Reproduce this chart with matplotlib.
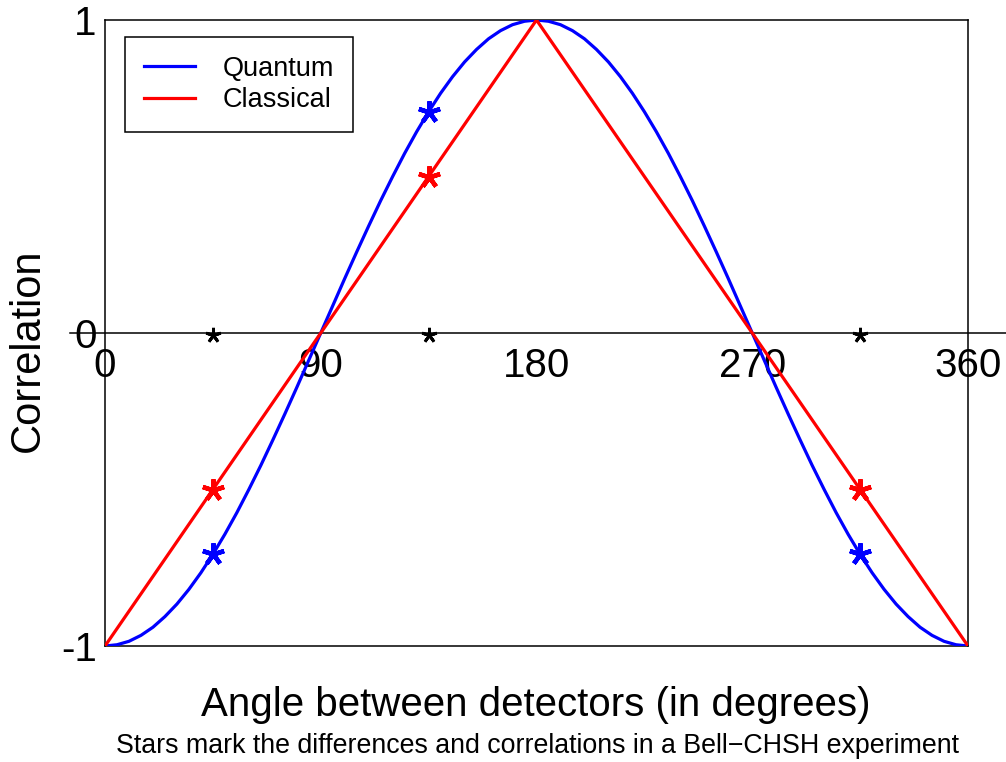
import matplotlib
matplotlib.use("Agg")
import matplotlib.pyplot as plt

plt.rcParams['font.family'] = ['Liberation Sans', 'DejaVu Sans']

# Quantum correlation read every 5 degrees
angles = [0, 5, 10, 15, 20, 25, 30, 35, 40, 45, 50, 55, 60, 65, 70, 75, 80, 85, 90,
          95, 100, 105, 110, 115, 120, 125, 130, 135, 140, 145, 150, 155, 160, 165, 170, 175, 180,
          185, 190, 195, 200, 205, 210, 215, 220, 225, 230, 235, 240, 245, 250, 255, 260, 265, 270,
          275, 280, 285, 290, 295, 300, 305, 310, 315, 320, 325, 330, 335, 340, 345, 350, 355, 360]
quantum = [-1.000, -0.996, -0.985, -0.966, -0.940, -0.906, -0.866, -0.819, -0.766, -0.707,
           -0.643, -0.574, -0.500, -0.423, -0.342, -0.259, -0.174, -0.087, 0.000,
           0.087, 0.174, 0.259, 0.342, 0.423, 0.500, 0.574, 0.643, 0.707, 0.766,
           0.819, 0.866, 0.906, 0.940, 0.966, 0.985, 0.996, 1.000,
           0.996, 0.985, 0.966, 0.940, 0.906, 0.866, 0.819, 0.766, 0.707, 0.643,
           0.574, 0.500, 0.423, 0.342, 0.259, 0.174, 0.087, 0.000,
           -0.087, -0.174, -0.259, -0.342, -0.423, -0.500, -0.574, -0.643, -0.707, -0.766,
           -0.819, -0.866, -0.906, -0.940, -0.966, -0.985, -0.996, -1.000]

classical_x = [0, 180, 360]
classical_y = [-1, 1, -1]

star_x = [45, 135, 315]
star_quantum = [-0.707, 0.707, -0.707]
star_classical = [-0.5, 0.5, -0.5]
star_diff = [0, 0, 0]

xticks = [0, 90, 180, 270, 360]
yticks = [-1, 0, 1]
ytick_labels = ['-1', '0', '1']

fig = plt.figure(figsize=(10.06, 7.62), dpi=100)
ax = fig.add_axes([105/1006, 1-646/762, (968-105)/1006, (646-20)/762])
ax.set_xlim(0, 360)
ax.set_ylim(-1, 1)

# zero line extending past the box
ax.plot([-14.6, 420], [0, 0], color='black', lw=1.1, clip_on=False, zorder=1)

ax.plot(angles, quantum, color='#0000ff', lw=2.3, label='Quantum', zorder=3)
ax.plot(classical_x, classical_y, color='#ff0000', lw=2.3, label='Classical', zorder=3)

ast = (5, 2, 0)
ax.plot(star_x, star_quantum, ls='none', marker=ast, ms=16, mew=3.2, color='#0000ff', zorder=4)
ax.plot(star_x, star_classical, ls='none', marker=ast, ms=16, mew=3.2, color='#ff0000', zorder=4)
ax.plot(star_x, [v - 0.006 for v in star_diff], ls='none', marker=ast, ms=11, mew=2.1, color='black', zorder=4)

for s in ax.spines.values():
    s.set_linewidth(1.1)

ax.set_xticks([])
ax.set_yticks(yticks)
ax.set_yticklabels(ytick_labels)
ax.tick_params(axis='y', length=0, pad=6, labelsize=29)

sec = ax.secondary_xaxis(0.5)
sec.set_alignment('bottom')
sec.set_xticks(xticks)
sec.set_xticklabels([str(t) for t in xticks])
sec.tick_params(length=0, pad=10, labelsize=29)
for s in sec.spines.values():
    s.set_visible(False)

fig.text(28/1006, 1-350/762, 'Correlation', fontsize=30, rotation=90,
         ha='center', va='center')
fig.text(536/1006, 1-705/762, 'Angle between detectors (in degrees)', fontsize=29,
         ha='center', va='center')
fig.text(537/1006, 1-746/762, 'Stars mark the differences and correlations in a Bell\u2212CHSH experiment',
         fontsize=19.3, ha='center', va='center')

leg = ax.legend(loc='upper left', bbox_to_anchor=((125-105)/863, 1-(37-20)/626),
                borderaxespad=0, fontsize=19.5, frameon=True, fancybox=False,
                edgecolor='black', framealpha=1, borderpad=0.7, handlelength=1.9,
                handletextpad=1.0, labelspacing=0.2)
leg.get_frame().set_linewidth(1.1)

fig.savefig('out.png', dpi=100)
